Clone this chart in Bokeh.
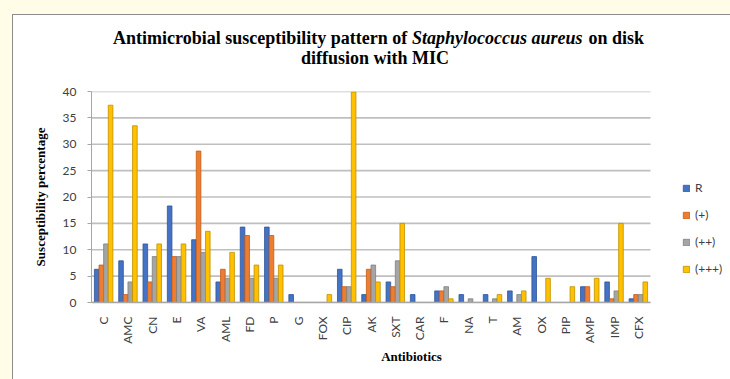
import math
from bokeh.plotting import figure
from bokeh.models import Range1d, Legend, LegendItem, Label, ColumnDataSource, FixedTicker
from bokeh.layouts import column
from bokeh.embed import file_html
from bokeh.resources import INLINE

cats = ["C", "AMC", "CN", "E", "VA", "AML", "FD", "P", "G", "FOX", "CIP", "AK",
        "SXT", "CAR", "F", "NA", "T", "AM", "OX", "PIP", "AMP", "IMP", "CFX"]
series_names = ["R", "(+)", "(++)", "(+++)"]
r_vals = [6.3, 7.9, 11.1, 18.3, 11.9, 3.9, 14.3, 14.3, 1.5, 0, 6.3, 1.5,
          3.9, 1.5, 2.2, 1.5, 1.5, 2.2, 8.7, 0, 3.0, 3.9, 0.7]
p1_vals = [7.1, 1.5, 3.9, 8.7, 28.7, 6.3, 12.7, 12.7, 0, 0, 3.0, 6.3,
           3.0, 0, 2.2, 0, 0, 0, 0, 0, 3.0, 0.7, 1.5]
p2_vals = [11.1, 3.9, 8.7, 8.7, 9.5, 4.6, 4.6, 4.6, 0, 0, 3.0, 7.1,
           7.9, 0, 3.0, 0.7, 0.7, 1.5, 0, 0, 0, 2.2, 1.5]
p3_vals = [37.4, 33.5, 11.1, 11.1, 13.5, 9.5, 7.1, 7.1, 0, 1.5, 39.9, 3.9,
           15.0, 0, 0.7, 0, 1.5, 2.2, 4.6, 3.0, 4.6, 15.0, 3.9]
y_ticks = [0, 5, 10, 15, 20, 25, 30, 35, 40]

colors = ["#4472C4", "#ED7D31", "#A5A5A5", "#FFC000"]
edges = ["#2F5597", "#C55A11", "#7F7F7F", "#BF9000"]
series_vals = [r_vals, p1_vals, p2_vals, p3_vals]

n = len(cats)
centers = [i + 0.5 for i in range(n)]

OX, OY = 13, 15             # page offset of the chart box content
CW = 718                    # chart canvas width
ML = 78                     # left border
FW = CW - ML                # frame width (includes legend area at right)
BAR_W = 559                 # width occupied by the categories
FH = 211
MT, MB = 10, 78
TH = 66                     # title strip height
x_end = n * FW / BAR_W

# ---- title strip: frame aligned with chart frame, ranges in page pixels ----
tf = figure(frame_width=FW, frame_height=TH,
            x_range=Range1d(OX + ML, OX + ML + FW), y_range=Range1d(OY + TH, OY),
            output_backend="svg", toolbar_location=None,
            min_border_left=ML, min_border_right=0, min_border_top=0, min_border_bottom=0,
            x_axis_location=None, y_axis_location=None)
tf.xgrid.grid_line_color = None
tf.ygrid.grid_line_color = None
tf.outline_line_color = None
tf.background_fill_color = "white"
tf.border_fill_color = "white"

t_font = "Liberation Serif"
t_size = "18px"
segs = [("Antimicrobial susceptibility pattern of", 112.5, "bold"),
        ("Staphylococcus aureus", 411.5, "bold italic"),
        ("on disk", 588, "bold")]
for txt, px, style in segs:
    tf.add_layout(Label(x=px, y=37, text=txt,
                        text_font=t_font, text_font_size=t_size, text_font_style=style,
                        text_color="black", text_align="left", text_baseline="alphabetic"))
tf.add_layout(Label(x=374.5, y=57.5, text="diffusion with MIC", text_font=t_font,
                    text_font_size=t_size, text_font_style="bold", text_color="black",
                    text_align="center", text_baseline="alphabetic"))

# ---- main chart ----
p = figure(x_range=Range1d(0, x_end), y_range=Range1d(0, 40),
           frame_width=FW, frame_height=FH,
           output_backend="svg", toolbar_location=None,
           min_border_left=ML, min_border_right=0, min_border_top=MT, min_border_bottom=MB)
p.background_fill_color = "white"
p.border_fill_color = "white"
p.outline_line_color = None

# horizontal gridlines only across the category area
p.segment(x0=0, x1=n, y0=y_ticks, y1=y_ticks, line_color="#bfbfbf", line_width=1.6)

offsets = [-0.285, -0.095, 0.095, 0.285]
renderers = []
for vals, off, fc, ec in zip(series_vals, offsets, colors, edges):
    src = ColumnDataSource(dict(x=[c + off for c in centers], top=vals))
    r = p.vbar(x="x", top="top", width=0.19, source=src,
               fill_color=fc, line_color=ec, line_width=0.8)
    renderers.append(r)

p.xgrid.grid_line_color = None
p.ygrid.grid_line_color = None

p.yaxis.ticker = y_ticks
p.yaxis.major_label_text_font = "Lato"
p.yaxis.major_label_text_font_size = "12px"
p.yaxis.major_label_text_color = "#404040"
p.yaxis.major_label_standoff = 11
p.yaxis.axis_line_color = "#a6a6a6"
p.yaxis.major_tick_line_color = "#a6a6a6"
p.yaxis.major_tick_out = 4
p.yaxis.major_tick_in = 0
p.yaxis.minor_tick_line_color = None
p.yaxis.axis_label = "Susceptibility percentage"
p.yaxis.axis_label_text_font = "Liberation Serif"
p.yaxis.axis_label_text_font_style = "bold"
p.yaxis.axis_label_text_font_size = "13px"
p.yaxis.axis_label_text_color = "black"
p.yaxis.axis_label_standoff = 12

p.xaxis.ticker = FixedTicker(ticks=centers)
p.xaxis.major_label_overrides = {c: name for c, name in zip(centers, cats)}
p.xaxis.bounds = (0, n)
p.xaxis.major_label_orientation = math.pi / 2
p.xaxis.major_label_text_font = "Lato"
p.xaxis.major_label_text_font_size = "12px"
p.xaxis.major_label_text_color = "#404040"
p.xaxis.axis_line_color = "#a6a6a6"
p.xaxis.axis_line_width = 1.5
p.xaxis.major_tick_line_color = None
p.xaxis.minor_tick_line_color = None
p.xaxis.major_label_standoff = 8
p.xaxis.axis_label = "Antibiotics"
p.xaxis.axis_label_text_font = "Liberation Serif"
p.xaxis.axis_label_text_font_style = "bold"
p.xaxis.axis_label_text_font_size = "13px"
p.xaxis.axis_label_text_color = "black"
p.xaxis.axis_label_standoff = 2

legend = Legend(items=[LegendItem(label=s, renderers=[r]) for s, r in zip(series_names, renderers)],
                location=(591, 26), margin=0, padding=10, spacing=12,
                glyph_height=8, glyph_width=8, label_height=15,
                label_text_font="Lato", label_text_font_size="12px", label_text_color="#404040",
                border_line_color=None, background_fill_alpha=0)
p.add_layout(legend)

chart = column(tf, p, spacing=0, margin=(14, 0, 0, 12),
               styles={"border-top": "1px solid #8c8c8c", "border-left": "1px solid #8c8c8c",
                       "background-color": "white"})
page = column(chart, styles={"background-color": "#FFFDE8", "overflow": "hidden",
                             "width": "730px", "height": "379px"})
open("out.html", "w").write(file_html(page, INLINE))
